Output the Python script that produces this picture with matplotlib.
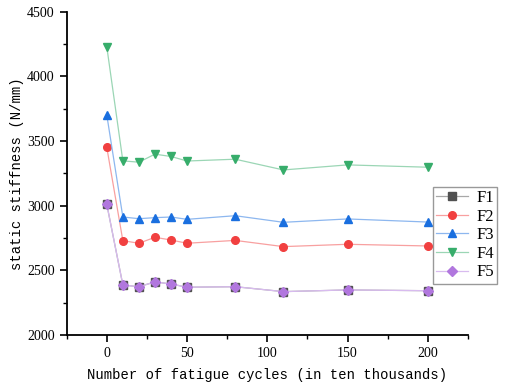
import matplotlib.pyplot as plt
from matplotlib.colors import to_rgb
from matplotlib.ticker import MultipleLocator

# fatigue cycles (in ten thousands)
cycles = [0, 10, 20, 30, 40, 50, 80, 110, 150, 200]

# static stiffness (N/mm) for each specimen
f1 = [3010, 2386, 2373, 2410, 2394, 2369, 2373, 2335, 2348, 2342]
f2 = [3450, 2729, 2709, 2755, 2734, 2709, 2731, 2683, 2701, 2688]
f3 = [3700, 2912, 2899, 2907, 2912, 2894, 2922, 2871, 2897, 2873]
f4 = [4228, 3346, 3336, 3398, 3380, 3345, 3359, 3276, 3315, 3297]
f5 = [3010, 2386, 2373, 2410, 2394, 2369, 2373, 2335, 2348, 2342]

names = ["F1", "F2", "F3", "F4", "F5"]
series = [f1, f2, f3, f4, f5]
colors = ["#515151", "#F14040", "#1A6FDF", "#37AD6B", "#B177DE"]
markers = ["s", "o", "^", "v", "D"]
msizes = [5.5, 5.5, 6, 6, 5]


def lighten(col, k=0.5):
    r, g, b = to_rgb(col)
    return (1 - k + k * r, 1 - k + k * g, 1 - k + k * b)


plt.rcParams["font.family"] = ["Liberation Serif", "DejaVu Serif"]

fig = plt.figure(figsize=(5.07, 3.89), dpi=100)
ax = fig.add_axes([0.1315, 0.139, 0.7915, 0.831])

for name, vals, col, mk, ms in zip(names, series, colors, markers, msizes):
    ax.plot(cycles, vals, color=lighten(col), lw=0.9, marker=mk, ms=ms,
            mfc=col, mec=col, label=name)

ax.set_xlim(-25, 225)
ax.set_ylim(2000, 4500)
ax.xaxis.set_major_locator(MultipleLocator(50))
ax.xaxis.set_minor_locator(MultipleLocator(25))
ax.yaxis.set_major_locator(MultipleLocator(500))
ax.yaxis.set_minor_locator(MultipleLocator(250))
ax.tick_params(which="major", direction="out", length=5, width=1.2,
               labelsize=10)
ax.tick_params(which="minor", direction="out", length=3, width=1.0)
for side in ("top", "right"):
    ax.spines[side].set_visible(False)
for side in ("left", "bottom"):
    ax.spines[side].set_linewidth(1.3)

ax.set_xlabel("Number of fatigue cycles (in ten thousands)",
              family="Liberation Mono", fontsize=10, labelpad=6)
ax.set_ylabel("static stiffness (N/mm)", family="Liberation Mono",
              fontsize=10, labelpad=2)

# legend frame placed in figure pixels, partly outside the axes
leg = fig.legend(loc="upper left", bbox_to_anchor=(433 / 507, 1 - 187 / 389),
                 fontsize=12, frameon=True, fancybox=False,
                 edgecolor="#808080", handlelength=1.9, handletextpad=0.5,
                 borderpad=0.2, labelspacing=0.15, borderaxespad=0)
leg.get_frame().set_linewidth(1.0)

fig.savefig("out.png", dpi=100)
